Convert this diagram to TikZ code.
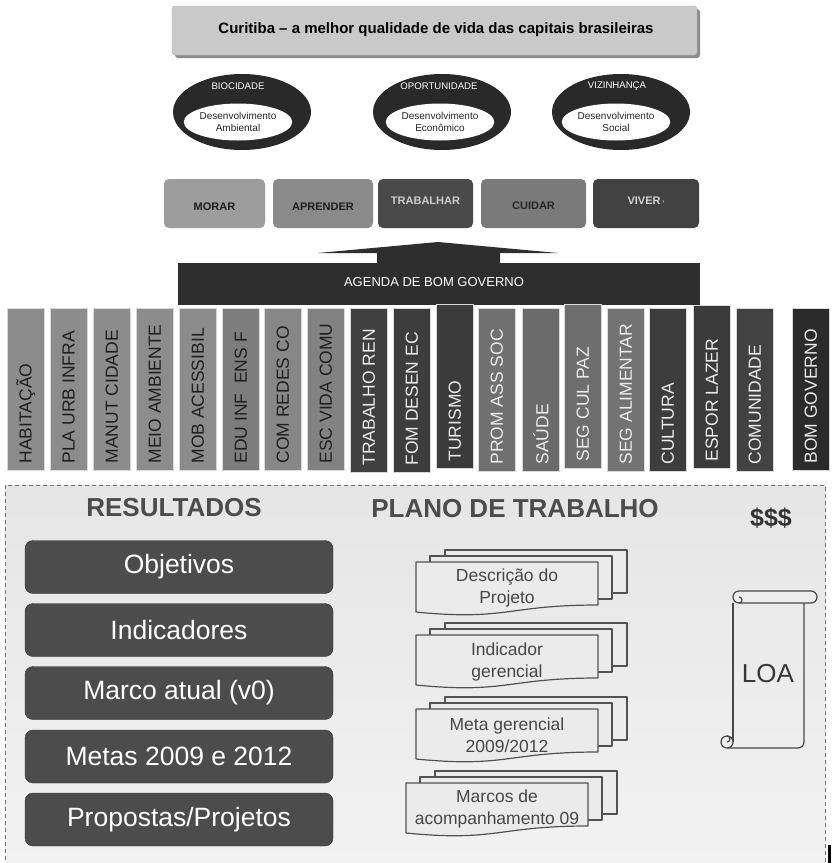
\documentclass[tikz,border=0pt]{standalone}
\usepackage{fontspec}
\setmainfont{Liberation Sans}
\usetikzlibrary{shapes.geometric}
\newcommand\myfs[2]{\fontsize{#1}{#2}\selectfont}
\begin{document}
\begin{tikzpicture}[x=1pt,y=-1pt,
  titlebox/.style={fill=black!21, draw=black!30, rounded corners=3pt, minimum width=525pt, minimum height=49pt, inner sep=0pt},
  outerell/.style={ellipse, fill=black!84, minimum width=138pt, minimum height=76pt, inner sep=0pt},
  innerell/.style={ellipse, fill=white, minimum width=95pt, minimum height=37pt, inner sep=0pt, align=center, font=\myfs{10}{12}, text=black!85},
  elllab/.style={font=\myfs{9.6}{10}, text=white, inner sep=0pt},
  topbox/.style={rounded corners=5pt, minimum height=49pt, inner sep=0pt},
  boxtext/.style={font=\myfs{11}{13}\bfseries, inner sep=0pt},
  colbox/.style={draw=white!85!black, line width=0.6pt, minimum width=37pt, inner sep=0pt, anchor=north west},
  coltext/.style={font=\myfs{17.5}{20}, inner sep=0pt, rotate=90, anchor=west},
  heading/.style={font=\myfs{26}{30}\bfseries, text=black!70, inner sep=0pt},
  resbox/.style={fill=black!70, draw=black!82, rounded corners=8pt, minimum width=308pt, minimum height=53pt, inner sep=0pt, text=white, font=\myfs{26.5}{30}},
  sheet/.style={fill=black!8, draw=black!68, line width=1.2pt, line join=round},
  doctext/.style={font=\myfs{17.5}{22}, text=black!72, align=center, inner sep=0pt},
  scrollline/.style={draw=black!72, line width=1.2pt, line join=round}
]
\useasboundingbox[fill=white] (0,0) rectangle (831,863);

% ---------- title ----------
\fill[black!45, rounded corners=3pt] (175,9) rectangle (700,58);
\node[titlebox] (title) at (434.5,30.5) {};
\node[font=\myfs{15}{17}\bfseries, inner sep=0pt] (titletext) at (436,30) {Curitiba -- a melhor qualidade de vida das capitais brasileiras};

% ---------- ellipses ----------
\node[outerell] (e1) at (242,112) {};
\node[innerell] (i1) at (238,122) {Desenvolvimento\\Ambiental};
\node[elllab] (l1) at (238,86.5) {BIOCIDADE};
\node[outerell] (e2) at (442,112) {};
\node[innerell] (i2) at (440,122) {Desenvolvimento\\Econômico};
\node[elllab] (l2) at (439,86.5) {OPORTUNIDADE};
\node[outerell] (e3) at (621,112) {};
\node[innerell] (i3) at (616,122) {Desenvolvimento\\Social};
\node[elllab] (l3) at (617,86.5) {VIZINHANÇA};

% ---------- top boxes ----------
\node[topbox, fill=black!39, minimum width=101pt] (b1) at (214.5,203.5) {};
\node[boxtext, text=black!88] (bt1) at ([yshift=-3pt]b1.center) {MORAR};
\node[topbox, fill=black!46, minimum width=100pt] (b2) at (323,203.5) {};
\node[boxtext, text=black!88] (bt2) at ([yshift=-3pt]b2.center) {APRENDER};
\node[topbox, fill=black!71, minimum width=95pt] (b3) at (425.5,203.5) {};
\node[boxtext, text=black!20] (bt3) at ([yshift=3pt]b3.center) {TRABALHAR};
\node[topbox, fill=black!52, minimum width=105pt] (b4) at (533.5,203.5) {};
\node[boxtext, text=black!85] (bt4) at ([yshift=-2pt]b4.center) {CUIDAR};
\node[topbox, fill=black!74, minimum width=106pt] (b5) at (646,203.5) {};
\node[boxtext, text=black!18] (bt5) at ([yshift=3pt]b5.center) {VIVER\,\raisebox{1pt}{\myfs{6}{6}›}};

% ---------- arrow and agenda ----------
\fill[black!82] (318,253) -- (438,242) -- (558,253) -- (500,253) -- (500,264) -- (377,264) -- (377,253) -- cycle;
\node[fill=black!82, minimum width=522pt, minimum height=42pt, inner sep=0pt, anchor=north west] (agenda) at (178,263) {};
\node[font=\myfs{13}{15}, text=white, inner sep=0pt] (agendatext) at (434,282) {AGENDA DE BOM GOVERNO};

% ---------- columns ----------
\foreach \i/\x/\t/\b/\f/\tc/\lab in {
  1/7/308/470/45/black!88/HABITAÇÃO,
  2/50/308/470/45/black!88/PLA URB INFRA,
  3/93/308/470/45/black!88/MANUT CIDADE,
  4/136/308/470/45/black!88/MEIO AMBIENTE,
  5/179/308/470/45/black!88/MOB ACESSIBIL,
  6/222/308/470/51/black!88/EDU INF \ ENS F,
  7/264/308/470/47/black!88/COM REDES CO,
  8/307/308/470/49/black!88/ESC VIDA COMU,
  9/350/308/472/75/white!92!black/TRABALHO REN,
  10/393/308/472/76/white!92!black/FOM DESEN EC,
  11/436/304/468/77/white!92!black/TURISMO,
  12/478/308/471/56/white!92!black/PROM ASS SOC,
  13/522/308/471/58/white!92!black/SAÚDE,
  14/564/304/468/57/white!92!black/SEG CUL PAZ,
  15/607/308/471/55/white!92!black/SEG ALIMENTAR,
  16/649/308/471/76/white!92!black/CULTURA,
  17/693/305/468/77/white!92!black/ESPOR LAZER,
  18/736/308/471/74/white!92!black/COMUNIDADE,
  19/792/308/470/83/white!92!black/BOM GOVERNO}{
  \node[colbox, fill=black!\f, minimum height={(\b-\t)*1pt}] (col\i) at (\x,\t) {};
  \node[coltext, text=\tc] (lab\i) at ([yshift=7pt]col\i.south) {\lab};
}

% ---------- bottom panel ----------
\node[draw=black!55, dash pattern=on 4pt off 3pt, line width=0.8pt, top color=black!10, bottom color=black!5, minimum width=820pt, minimum height=390pt, inner sep=0pt, anchor=north west] (panel) at (5,485) {};
\fill[black] (828,845) rectangle (831,863);

\node[heading] (res) at (174,508) {RESULTADOS};
\node[heading] (plano) at (515,509) {PLANO DE TRABALHO};
\node[font=\myfs{25}{28}\bfseries, text=black!80, inner sep=0pt] (money) at (771,518) {\$\$\$};

\node[resbox] (r1) at (179,567) {Objetivos};
\node[resbox] (r2) at (179,630) {Indicadores};
\node[resbox] (r3) at (179,693) {Marco atual (v0)};
\node[resbox] (r4) at (179,756.5) {Metas 2009 e 2012};
\node[resbox] (r5) at (179,819.5) {Propostas/Projetos};

% ---------- documents ----------
\foreach \n/\X/\Y in {1/416/562, 2/416/635, 3/416/709, 4/406/783}{
  \path[sheet] (\X+29,\Y-12) rectangle (\X+211,\Y+31);
  \path[sheet] (\X+14,\Y-6) rectangle (\X+196,\Y+37);
  \path[sheet] (\X,\Y) -- (\X+182,\Y) -- (\X+182,\Y+43)
     .. controls (\X+91,\Y+43) and (\X+91,\Y+59) .. (\X,\Y+50) -- cycle;
}
\node[doctext] (d1) at (507,588) {Descrição do\\Projeto};
\node[doctext] (d2) at (507,661.5) {Indicador\\gerencial};
\node[doctext] (d3) at (507,735) {Meta gerencial\\2009/2012};
\node[doctext] (d4) at (497,809) {Marcos de\\acompanhamento 09};

% ---------- scroll ----------
\path[scrollline] (733,603) -- (733,742);
\path[scrollline] (727,748) -- (798,748) arc[start angle=90, end angle=0, radius=6] -- (804,603);
\path[scrollline, fill=black!7] (739,591) -- (811,591) arc[start angle=-90, end angle=90, radius=6] -- (739,603) arc[start angle=90, end angle=270, radius=6] -- cycle;
\path[scrollline] (739,603) arc[start angle=90, end angle=-90, radius=3];
\path[scrollline, fill=black!7] (727,742) circle[radius=6];
\path[scrollline] (727,736) arc[start angle=-90, end angle=90, radius=3];
\node[font=\myfs{26}{28}, text=black!78, inner sep=0pt] (loa) at (768,674) {LOA};
\end{tikzpicture}
\end{document}
